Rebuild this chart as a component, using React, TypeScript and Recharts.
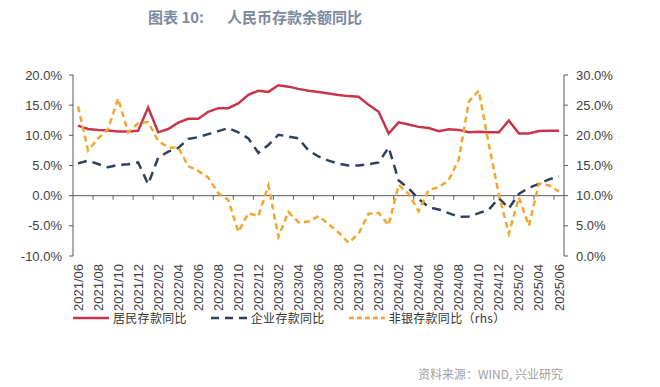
import React from 'react';
import { LineChart, Line, XAxis, YAxis, ReferenceLine } from 'recharts';

const months = [
  '2021/06', '2021/07', '2021/08', '2021/09', '2021/10', '2021/11', '2021/12',
  '2022/01', '2022/02', '2022/03', '2022/04', '2022/05', '2022/06', '2022/07',
  '2022/08', '2022/09', '2022/10', '2022/11', '2022/12', '2023/01', '2023/02',
  '2023/03', '2023/04', '2023/05', '2023/06', '2023/07', '2023/08', '2023/09',
  '2023/10', '2023/11', '2023/12', '2024/01', '2024/02', '2024/03', '2024/04',
  '2024/05', '2024/06', '2024/07', '2024/08', '2024/09', '2024/10', '2024/11',
  '2024/12', '2025/01', '2025/02', '2025/03', '2025/04', '2025/05', '2025/06',
];

// 居民存款同比 (%)
const household = [
  11.6, 11.05, 10.9, 10.8, 10.65, 10.65, 10.75, 14.6, 10.5, 11.05, 12.1, 12.75,
  12.75, 13.9, 14.5, 14.5, 15.3, 16.7, 17.4, 17.2, 18.3, 18.07, 17.7, 17.4,
  17.2, 16.95, 16.7, 16.5, 16.4, 15.05, 13.9, 10.3, 12.15, 11.8, 11.4, 11.2,
  10.7, 11.0, 10.9, 10.5, 10.6, 10.5, 10.5, 12.45, 10.3, 10.3, 10.7, 10.75, 10.75,
];

// 企业存款同比 (%)
const corporate = [
  5.35, 5.8, 5.25, 4.7, 5.1, 5.2, 5.5, 1.9, 6.3, 7.3, 7.9, 9.4,
  9.7, 10.2, 10.7, 11.2, 10.5, 9.5, 7.1, 8.4, 10.1, 9.8, 9.5, 7.5,
  6.5, 5.8, 5.3, 5.0, 5.0, 5.2, 5.5, 8.0, 2.5, 1.2, -0.55, -1.9,
  -2.3, -2.9, -3.5, -3.45, -2.9, -2.3, -0.4, -2.1, 0.3, 1.3, 1.95, 2.7, 3.2,
];

// 非银存款同比 (%, 右轴)
const nonBank = [
  24.8, 17.5, 19.5, 21.0, 26.1, 20.5, 22.0, 22.2, 19.1, 18.0, 18.0, 14.9,
  14.1, 13.0, 10.4, 9.3, 4.0, 7.1, 6.6, 11.7, 3.2, 7.3, 5.6, 5.7,
  6.6, 5.3, 3.9, 2.2, 3.7, 7.0, 7.15, 5.1, 11.8, 10.3, 7.4, 10.95,
  11.4, 12.6, 16.0, 25.6, 27.4, 18.5, 10.2, 3.7, 9.7, 5.0, 12.0, 11.7, 10.7,
];

const leftTicks = [-10, -5, 0, 5, 10, 15, 20];
const rightTicks = [0, 5, 10, 15, 20, 25, 30];

const data = months.map((m, i) => ({
  idx: i,
  month: m,
  household: household[i],
  corporate: corporate[i],
  nonBank: nonBank[i],
}));

const labelTicks = months.map((_, i) => i).filter((i) => i % 2 === 0);
const boundaryTicks = labelTicks.slice(1).map((i) => i - 0.5);

const RED = '#C8344A';
const NAVY = '#2F3F5C';
const ORANGE = '#F2A62E';
const AXIS = '#595959';
const tickFont = { fill: '#404040', fontSize: 13, fontFamily: 'Liberation Sans, Arial, sans-serif' };

const MonthTick = (props: any) => {
  const { x, y, payload } = props;
  return (
    <text
      x={x}
      y={y}
      transform={`rotate(-90 ${x} ${y})`}
      textAnchor="end"
      dy="0.35em"
      fill="#404040"
      fontSize={13}
      fontFamily="Liberation Sans, Arial, sans-serif"
    >
      {months[payload.value]}
    </text>
  );
};

const pct = (v: number) => `${v.toFixed(1)}%`;

const legendItems = [
  { name: '居民存款同比', color: RED, dash: undefined as string | undefined },
  { name: '企业存款同比', color: NAVY, dash: '8 6' },
  { name: '非银存款同比（rhs）', color: ORANGE, dash: '5 3' },
];

const cjk = '"Noto Sans CJK SC", sans-serif';

const App: React.FC = () => {
  return (
    <div style={{ position: 'absolute', left: 0, top: 0, width: 660, height: 387, background: '#fff' }}>
      <div
        style={{
          position: 'absolute',
          top: 6,
          left: 148,
          fontFamily: cjk,
          fontWeight: 700,
          fontSize: 15,
          color: '#7B8AA0',
          whiteSpace: 'pre',
        }}
      >
        <span>图表 10:</span>
        <span style={{ position: 'absolute', left: 79 }}>人民币存款余额同比</span>
      </div>

      <LineChart width={660} height={387} data={data} margin={{ top: 75, right: 36, bottom: 71, left: 13 }}>
        <XAxis
          type="number"
          dataKey="idx"
          domain={[-0.5, 48.5]}
          ticks={labelTicks}
          interval={0}
          axisLine={false}
          tickLine={false}
          tickSize={0}
          tickMargin={8}
          height={60}
          tick={<MonthTick />}
        />
        <YAxis
          yAxisId="left"
          domain={[-10, 20]}
          ticks={leftTicks}
          tickFormatter={pct}
          width={60}
          tick={tickFont}
          axisLine={{ stroke: AXIS }}
          tickLine={{ stroke: AXIS }}
          tickSize={4}
          tickMargin={7}
        />
        <YAxis
          yAxisId="right"
          orientation="right"
          domain={[0, 30]}
          ticks={rightTicks}
          tickFormatter={pct}
          width={60}
          tick={{ ...tickFont, textAnchor: 'start' }}
          axisLine={{ stroke: AXIS }}
          tickLine={{ stroke: AXIS }}
          tickSize={4}
          tickMargin={8}
        />
        <ReferenceLine yAxisId="left" y={0} stroke={AXIS} strokeWidth={1} />
        {boundaryTicks.map((b) => (
          <ReferenceLine
            key={b}
            yAxisId="left"
            segment={[{ x: b, y: 0 }, { x: b, y: -0.66 }]}
            stroke={AXIS}
            strokeWidth={1}
          />
        ))}
        <Line
          yAxisId="left"
          type="linear"
          dataKey="household"
          stroke={RED}
          strokeWidth={2.5}
          dot={false}
          isAnimationActive={false}
        />
        <Line
          yAxisId="left"
          type="linear"
          dataKey="corporate"
          stroke={NAVY}
          strokeWidth={2.5}
          strokeDasharray="9 6"
          dot={false}
          isAnimationActive={false}
        />
        <Line
          yAxisId="right"
          type="linear"
          dataKey="nonBank"
          stroke={ORANGE}
          strokeWidth={2.5}
          strokeDasharray="6 4"
          dot={false}
          isAnimationActive={false}
        />
      </LineChart>

      <div
        style={{
          position: 'absolute',
          top: 309,
          left: 73,
          display: 'flex',
          alignItems: 'center',
          gap: 24,
          fontFamily: cjk,
          fontSize: 12,
          color: '#333',
          letterSpacing: 0.3,
        }}
      >
        {legendItems.map((it) => (
          <div key={it.name} style={{ display: 'flex', alignItems: 'center' }}>
            <svg width={36} height={10} style={{ marginRight: 4 }}>
              <line x1={0} y1={5} x2={36} y2={5} stroke={it.color} strokeWidth={2.5} strokeDasharray={it.dash} />
            </svg>
            <span>{it.name}</span>
          </div>
        ))}
      </div>

      <div
        style={{
          position: 'absolute',
          top: 365,
          left: 418,
          fontFamily: cjk,
          fontSize: 12,
          color: '#A0A0A0',
          whiteSpace: 'nowrap',
        }}
      >
        资料来源：WIND, 兴业研究
      </div>
    </div>
  );
};

export default App;
